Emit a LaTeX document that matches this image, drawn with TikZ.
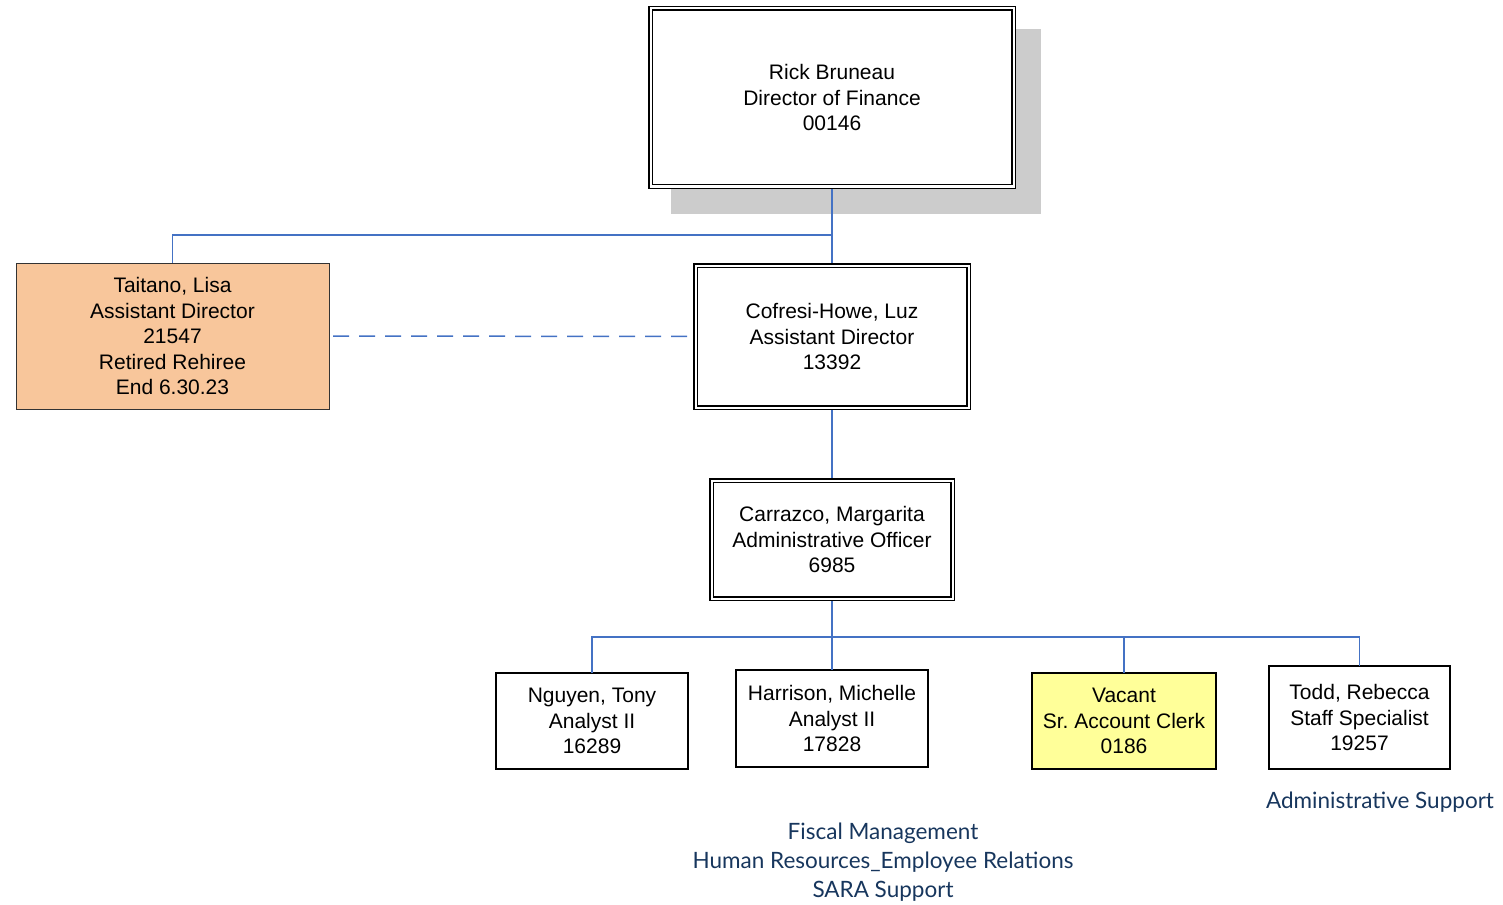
\documentclass[tikz,border=0pt]{standalone}
\usepackage{fontspec}
\setmainfont{Liberation Sans}
\newfontfamily\gillfont{Lato}
\frenchspacing
\definecolor{conn}{RGB}{68,114,196}
\definecolor{navy}{RGB}{23,54,93}
\definecolor{peach}{RGB}{248,198,155}
\definecolor{lemon}{RGB}{255,255,153}
\definecolor{shadowgray}{RGB}{204,204,204}
\begin{document}
\begin{tikzpicture}[x=1pt,y=-1pt,
  box/.style={draw=black, line width=1.4pt, fill=white, align=center,
    font=\fontsize{21}{25.5}\selectfont, inner sep=0pt, outer sep=0pt},
  dbox/.style={box, double, double distance=2pt, line width=1.5pt, outer sep=2.5pt},
  connline/.style={draw=conn, line width=1.5pt},
  lab/.style={align=center, text=navy, font=\gillfont\fontsize{22.5}{29}\selectfont, inner sep=0pt}]
\useasboundingbox (0,0) rectangle (1503,904);
% shadow
\fill[shadowgray] (671,29) rectangle (1041,214);
% nodes
\node[dbox, minimum width=363pt, minimum height=178pt] (top) at (832,97.5) {Rick Bruneau\\Director of Finance\\00146};
\node[dbox, minimum width=273pt, minimum height=142pt] (cof) at (832,336.5) {Cofresi-Howe, Luz\\Assistant Director\\13392};
\node[dbox, minimum width=241pt, minimum height=118pt] (car) at (832,539.5) {Carrazco, Margarita\\Administrative Officer\\6985};
\node[box, draw=black!80, line width=1pt, fill=peach, minimum width=313pt, minimum height=146pt] (tai) at (172.5,336) {Taitano, Lisa\\Assistant Director\\21547\\Retired Rehiree\\End 6.30.23};
\node[box, minimum width=192pt, minimum height=96pt] (ngu) at (592,721) {Nguyen, Tony\\Analyst II\\16289};
\node[box, minimum width=192pt, minimum height=97pt] (har) at (832,718.5) {Harrison, Michelle\\Analyst II\\17828};
\node[box, fill=lemon, minimum width=184pt, minimum height=96pt] (vac) at (1124,721) {Vacant\\Sr. Account Clerk\\0186};
\node[box, minimum width=181pt, minimum height=103pt] (todd) at (1359.5,717.5) {Todd, Rebecca\\Staff Specialist\\19257};
\node[lab] (as) at (1380,802) {Administrative Support};
\node[lab] (fm) at (883,862) {Fiscal Management\\Human Resources\_Employee Relations\\SARA Support};
% connectors
\coordinate (j1) at (832,235);
\coordinate (j2) at (832,637);
\draw[connline] (top.south) -- (cof.north);
\draw[connline] (j1) -| (tai.north);
\draw[connline, dash pattern=on 16pt off 10pt, shorten <=4pt, shorten >=-2.5pt] (tai.east) -- (cof.west);
\draw[connline] (cof.south) -- (car.north);
\draw[connline] (car.south) -- (har.north);
\draw[connline] (ngu.north) |- (todd.north |- j2) -- (todd.north);
\draw[connline] (vac.north) -- (vac.north |- j2);
\end{tikzpicture}
\end{document}
